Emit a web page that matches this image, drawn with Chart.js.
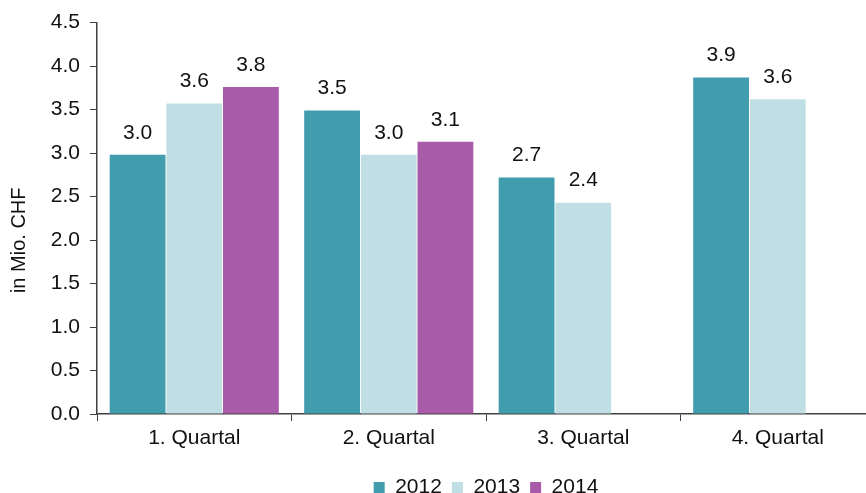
<!DOCTYPE html>
<html>
<head>
<meta charset="utf-8">
<script src="https://cdn.jsdelivr.net/npm/chart.js@4/dist/chart.umd.min.js"></script>
<style>
  html, body { margin: 0; padding: 0; background: #fff; overflow: hidden; width: 866px; height: 493px; }
  canvas { display: block; }
</style>
</head>
<body>
<canvas id="quarterChart" width="880" height="508"></canvas>
<script>
// categories and series
var quarters = ['1. Quartal', '2. Quartal', '3. Quartal', '4. Quartal'];
var years = ['2012', '2013', '2014'];
var values2012 = [2.98, 3.49, 2.72, 3.87];
var values2013 = [3.57, 2.98, 2.43, 3.62];
var values2014 = [3.76, 3.13, null, null];
var yearColors = ['#419dae', '#bfdfe4', '#a75ba8'];
var yTicks = [0, 0.5, 1, 1.5, 2, 2.5, 3, 3.5, 4, 4.5];
var yTitle = 'in Mio. CHF';

var textColor = '#111';
var axisColor = '#404040';
var baseFont = { family: '"Liberation Sans", Arial, sans-serif', size: 21 };

// draws the value above each bar
var valueLabels = {
  id: 'valueLabels',
  afterDatasetsDraw: function(chart) {
    var ctx = chart.ctx;
    ctx.save();
    ctx.font = '21px "Liberation Sans", Arial, sans-serif';
    ctx.fillStyle = textColor;
    ctx.textAlign = 'center';
    ctx.textBaseline = 'middle';
    chart.data.datasets.forEach(function(ds, i) {
      var meta = chart.getDatasetMeta(i);
      meta.data.forEach(function(bar, j) {
        var v = ds.data[j];
        if (v == null) return;
        ctx.fillText(v.toFixed(1), bar.x, bar.y - 22);
      });
    });
    ctx.restore();
  }
};

// y axis title, sits a bit below the middle of the plot like in the original
var axisTitle = {
  id: 'axisTitle',
  afterDraw: function(chart) {
    var ctx = chart.ctx;
    var area = chart.chartArea;
    ctx.save();
    ctx.translate(19, (area.top + area.bottom) / 2 + 22);
    ctx.rotate(-Math.PI / 2);
    ctx.font = '20px "Liberation Sans", Arial, sans-serif';
    ctx.fillStyle = textColor;
    ctx.textAlign = 'center';
    ctx.textBaseline = 'middle';
    ctx.fillText(yTitle, 0, 0);
    ctx.restore();
  }
};

var allSeries = [values2012, values2013, values2014];

var ctx = document.getElementById('quarterChart').getContext('2d');
var chart = new Chart(ctx, {
  type: 'bar',
  data: {
    labels: quarters,
    datasets: years.map(function(y, i) {
      return {
        label: y,
        data: allSeries[i],
        backgroundColor: yearColors[i],
        borderWidth: 0,
        barPercentage: 0.985,
        categoryPercentage: 0.874
      };
    })
  },
  plugins: [valueLabels, axisTitle],
  options: {
    responsive: false,
    animation: false,
    layout: { padding: { top: 22, right: 5, left: 0, bottom: 0 } },
    plugins: {
      legend: {
        position: 'bottom',
        fullSize: false,
        labels: {
          boxWidth: 11,
          boxHeight: 11,
          padding: 10,
          color: textColor,
          font: baseFont
        }
      },
      tooltip: { enabled: false }
    },
    scales: {
      x: {
        grid: {
          drawOnChartArea: false,
          offset: true,
          tickLength: 7,
          color: axisColor
        },
        border: { color: axisColor, width: 1.5 },
        ticks: { color: textColor, font: baseFont, padding: 5 },
        afterFit: function(scale) { scale.height = 53; }
      },
      y: {
        min: 0,
        max: 4.5,
        afterBuildTicks: function(scale) {
          scale.ticks = yTicks.map(function(v) { return { value: v }; });
        },
        grid: {
          drawOnChartArea: false,
          tickLength: 7,
          color: axisColor
        },
        border: { color: axisColor, width: 1.5 },
        ticks: {
          color: textColor,
          font: baseFont,
          padding: 10,
          callback: function(v) { return Number(v).toFixed(1); }
        },
        afterFit: function(scale) { scale.width = 97; }
      }
    }
  }
});
</script>
</body>
</html>
